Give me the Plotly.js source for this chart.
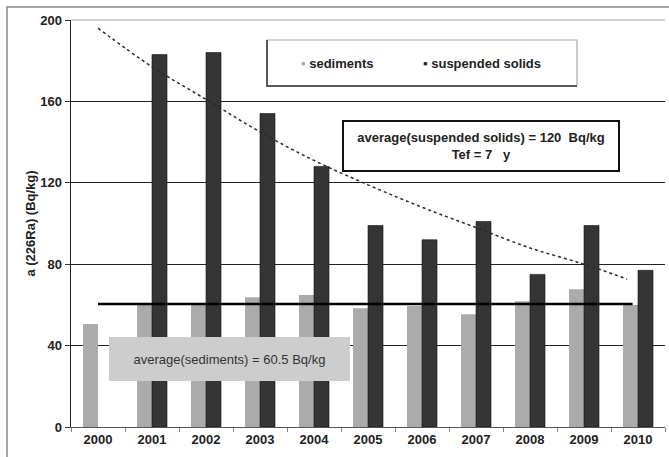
<!DOCTYPE html>
<html><head><meta charset="utf-8">
<script src="https://cdn.plot.ly/plotly-3.0.1.min.js"></script>
<style>html,body{margin:0;padding:0;background:#fff;}#chart{width:669px;height:457px;}</style>
</head><body><div id="chart"></div>
<script>
// ---- data ----
const years = [2000, 2001, 2002, 2003, 2004, 2005, 2006, 2007, 2008, 2009, 2010];
const yearLabels = ['2000','2001','2002','2003','2004','2005','2006','2007','2008','2009','2010'];
const sediments = [50.6, 60, 60, 63.7, 64.9, 58.3, 59.5, 55.4, 61.8, 67.7, 60];
const suspendedSolids = [null, 183, 184, 154, 128, 99, 92, 101, 75, 99, 77];
const trendYears = [2000, 2001, 2002, 2003, 2004, 2005, 2006, 2007, 2008, 2009, 2009.8];
const trendValues = [196, 177, 161, 145, 131, 119, 108, 98, 88, 80, 72.7];
const avgSediments = 60.5;
const avgSuspended = 120;
const tefYears = 7;
const yTicks = [0, 40, 80, 120, 160, 200];
const yTickLabels = ['0', '40', '80', '120', '160', '200'];

// ---- layout helpers (pixel -> paper) ----
const W = 669, H = 457, ML = 71, MR = 4, MT = 20, MB = 30;
const PW = W - ML - MR, PH = H - MT - MB;
const PX = p => (p - ML) / PW;
const PY = p => (H - MB - p) / PH;
const FONT = 'Liberation Sans, Arial, sans-serif';

const traces = [
  {type: 'bar', name: 'sediments', x: years, y: sediments,
   marker: {color: '#ababab', line: {width: 0}}, showlegend: false},
  {type: 'bar', name: 'suspended solids', x: years, y: suspendedSolids,
   marker: {color: '#353535', line: {color: '#111', width: 0.6}}, showlegend: false},
  {type: 'scatter', mode: 'lines', x: trendYears, y: trendValues,
   line: {color: '#2a2a2a', width: 1.5, dash: 'dot', shape: 'spline'}, showlegend: false, hoverinfo: 'skip'},
  {type: 'scatter', mode: 'lines', x: [years[0], years[years.length - 1] - 0.1], y: [avgSediments, avgSediments],
   line: {color: '#000', width: 2.5}, showlegend: false, hoverinfo: 'skip'}
];

const layout = {
  width: W, height: H,
  margin: {l: ML, r: MR, t: MT, b: MB, pad: 0},
  paper_bgcolor: '#fff', plot_bgcolor: '#fff',
  font: {family: FONT, size: 13, color: '#222'},
  barmode: 'group', bargap: 0.444, bargroupgap: 0,
  showlegend: false,
  xaxis: {
    range: [1999.5, 2010.5], tickmode: 'array', tickvals: years, ticktext: yearLabels,
    ticks: '', showgrid: false, zeroline: false,
    showline: true, linecolor: '#555', linewidth: 1.2,
    tickfont: {family: FONT, size: 13, weight: 'bold', color: '#222'},
    minor: {tick0: 1999.5, dtick: 1, ticks: 'outside', ticklen: 4, tickcolor: '#888', showgrid: false}
  },
  yaxis: {
    range: [0, 200], tickmode: 'array', tickvals: yTicks, ticktext: yTickLabels,
    ticks: 'outside', ticklen: 5, tickcolor: '#333',
    showline: true, linecolor: '#222', linewidth: 1.5,
    showgrid: true, gridcolor: '#222', gridwidth: 1.2, zeroline: false,
    tickfont: {family: FONT, size: 13, weight: 'bold', color: '#222'},
    title: {text: 'a (226Ra) (Bq/kg)', font: {family: FONT, size: 13, weight: 'bold', color: '#222'}, standoff: 1}
  },
  shapes: [
    {type: 'line', xref: 'paper', yref: 'paper', x0: 0, x1: 1, y0: 1, y1: 1, line: {color: '#cfcfcf', width: 2}},
    {type: 'path', xref: 'paper', yref: 'paper', path: `M ${PX(7)},${PY(470)} L ${PX(7)},${PY(7)} L ${PX(680)},${PY(7)}`,
     line: {color: '#8a8a8a', width: 1.5}},
    {type: 'rect', xref: 'paper', yref: 'paper', x0: PX(267), x1: PX(577), y0: PY(86), y1: PY(40),
     fillcolor: '#fff', line: {color: '#aaa', width: 1.2}},
    {type: 'path', xref: 'paper', yref: 'paper', path: `M ${PX(267)},${PY(40)} L ${PX(267)},${PY(86)} L ${PX(577)},${PY(86)}`,
     line: {color: '#333', width: 1.5}}
  ],
  annotations: [
    {xref: 'paper', yref: 'paper', x: PX(299), y: PY(63), xanchor: 'left', yanchor: 'middle', showarrow: false,
     text: "<span style='color:#ababab'>▪</span> sediments", font: {family: FONT, size: 13, weight: 'bold', color: '#222'}},
    {xref: 'paper', yref: 'paper', x: PX(421), y: PY(63), xanchor: 'left', yanchor: 'middle', showarrow: false,
     text: "<span style='color:#222'>▪</span> suspended solids", font: {family: FONT, size: 13, weight: 'bold', color: '#222'}},
    {xref: 'paper', yref: 'paper', x: PX(481), y: PY(146), xanchor: 'center', yanchor: 'middle', showarrow: false,
     text: `average(suspended solids) = ${avgSuspended}  Bq/kg<br>Tef = ${tefYears}   y`,
     width: 272, height: 46, bgcolor: '#fff', bordercolor: '#111', borderwidth: 2, borderpad: 1,
     font: {family: FONT, size: 13, weight: 'bold', color: '#222'}},
    {xref: 'paper', yref: 'paper', x: PX(229), y: PY(359), xanchor: 'center', yanchor: 'middle', showarrow: false,
     text: `average(sediments) = ${avgSediments} Bq/kg`,
     width: 241, height: 44, bgcolor: '#cdcdcd', borderwidth: 0, borderpad: 0,
     font: {family: FONT, size: 13, color: '#333'}}
  ]
};

Plotly.newPlot('chart', traces, layout, {displayModeBar: false, staticPlot: true});
</script>
</body></html>
